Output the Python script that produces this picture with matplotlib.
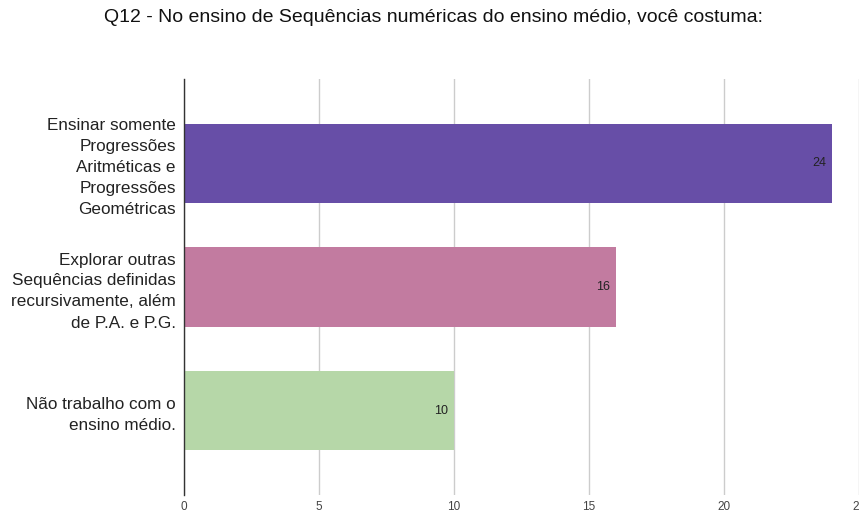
import matplotlib.pyplot as plt

plt.rcParams['font.family'] = ['Liberation Sans', 'DejaVu Sans']

categorias = [
    'Ensinar somente\nProgressões\nAritméticas e\nProgressões\nGeométricas',
    'Explorar outras\nSequências definidas\nrecursivamente, além\nde P.A. e P.G.',
    'Não trabalho com o\nensino médio.',
]
valores = [24, 16, 10]
cores = ['#674ea7', '#c27ba0', '#b6d7a8']
ticks_x = [0, 5, 10, 15, 20, 25]

fig = plt.figure(figsize=(8.59, 5.12), dpi=100)
ax = fig.add_axes([184 / 859, 1 - 495 / 512, 1 - 184 / 859, 416 / 512])

pos = list(range(len(valores)))
ax.barh(pos, valores, height=0.64, color=cores, zorder=2)

for y, v in zip(pos, valores):
    ax.text(v - 0.22, y, str(v), ha='right', va='center', fontsize=9,
            color='#222222', zorder=3)

ax.set_xlim(0, 25)
ax.set_ylim(2.684, -0.684)
ax.set_xticks(ticks_x)
ax.set_xticklabels([str(t) for t in ticks_x], fontsize=8.5, color='#444444')
ax.set_yticks(pos)
ax.set_yticklabels(categorias, fontsize=12.3, color='#222222', linespacing=1.5)
ax.tick_params(axis='both', length=0)
ax.tick_params(axis='x', pad=4)
ax.tick_params(axis='y', pad=6)

ax.grid(axis='x', color='#cccccc', linewidth=1, zorder=0)
for s in ['top', 'right', 'bottom']:
    ax.spines[s].set_visible(False)
ax.spines['left'].set_color('#333333')
ax.spines['left'].set_linewidth(1)
ax.spines['left'].set_zorder(4)

fig.text(434 / 859, 1 - 18 / 512,
         'Q12 - No ensino de Sequências numéricas do ensino médio, você costuma:',
         ha='center', va='center', fontsize=14, color='#111111')

fig.savefig('out.png', dpi=100)
